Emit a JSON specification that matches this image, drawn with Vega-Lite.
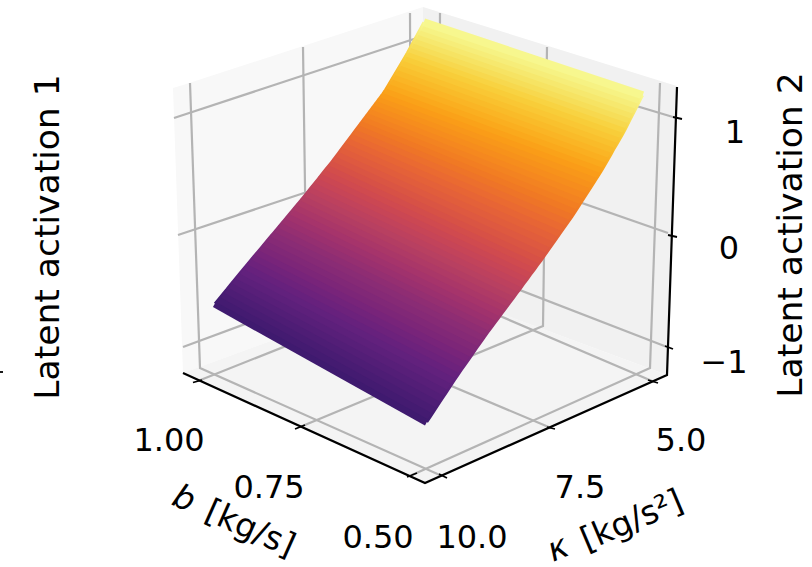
{
"$schema":"https://vega.github.io/schema/vega-lite/v6.json",
"autosize":"none",
"padding":0,
"width":812,
"height":567,
"background":"white",
"config":{"view":{"stroke":null}},
"datasets":{
"panes":[
{"pane":"left","u":173,"v":88,"v2":88},{"pane":"left","u":183,"v":85,"v2":373},{"pane":"left","u":423,"v":7,"v2":285},
{"pane":"right","u":423,"v":7,"v2":285},{"pane":"right","u":667,"v":83,"v2":375},{"pane":"right","u":677,"v":86,"v2":86},
{"pane":"floor","u":183,"v":373,"v2":373},{"pane":"floor","u":424,"v":285,"v2":483},{"pane":"floor","u":667,"v":375,"v2":375}
],
"grid":[
{"g":"z1L","u":174,"v":118},{"g":"z1L","u":423,"v":36},
{"g":"z1R","u":423,"v":42},{"g":"z1R","u":673,"v":117},
{"g":"z0L","u":178,"v":235},{"g":"z0L","u":424,"v":153},
{"g":"z0R","u":424,"v":148},{"g":"z0R","u":668,"v":233},
{"g":"zm1L","u":183,"v":347},{"g":"zm1L","u":424,"v":258},
{"g":"zm1R","u":424,"v":253},{"g":"zm1R","u":667,"v":347},
{"g":"k10","u":442,"v":476},{"g":"k10","u":200,"v":368},{"g":"k10","u":190,"v":83},
{"g":"k75","u":551,"v":428},{"g":"k75","u":307,"v":325},{"g":"k75","u":303,"v":47},
{"g":"k5","u":652,"v":381},{"g":"k5","u":411,"v":278},{"g":"k5","u":410,"v":13},
{"g":"b1","u":198,"v":381},{"g":"b1","u":439,"v":285},{"g":"b1","u":440,"v":13},
{"g":"b75","u":300,"v":427},{"g":"b75","u":543,"v":326},{"g":"b75","u":547,"v":47},
{"g":"b5","u":412,"v":475},{"g":"b5","u":650,"v":368},{"g":"b5","u":660,"v":83}
],
"axes":[
{"g":"frame","u":183,"v":373},{"g":"frame","u":425,"v":483},{"g":"frame","u":667,"v":375},{"g":"frame","u":677,"v":87}
],
"ticks":[
{"g":"b1","u":193,"v":382.5},{"g":"b1","u":202,"v":380},
{"g":"b75","u":295,"v":429},{"g":"b75","u":305,"v":425},
{"g":"b5","u":407,"v":477},{"g":"b5","u":417,"v":473},
{"g":"k10","u":439,"v":474},{"g":"k10","u":447,"v":478},
{"g":"k75","u":547,"v":427},{"g":"k75","u":555,"v":429},
{"g":"k5","u":648,"v":380},{"g":"k5","u":658,"v":383},
{"g":"z1","u":673,"v":117},{"g":"z1","u":682,"v":119},
{"g":"z0","u":668,"v":235},{"g":"z0","u":677,"v":237},
{"g":"zm1","u":665,"v":346},{"g":"zm1","u":673,"v":349},
{"g":"edge","u":0,"v":372},{"g":"edge","u":3,"v":372}
],
"surface":[
{"s":0,"b":1,"z":-0.883,"u":214.9,"v":303.6},{"s":0,"b":0.5,"z":-0.883,"u":426.9,"v":422.1},
{"s":1,"b":1,"z":-0.848,"u":218.8,"v":298.9},{"s":1,"b":0.5,"z":-0.848,"u":430.8,"v":416.2},
{"s":2,"b":1,"z":-0.814,"u":222.7,"v":294.1},{"s":2,"b":0.5,"z":-0.814,"u":434.7,"v":410.3},
{"s":3,"b":1,"z":-0.78,"u":226.6,"v":289.4},{"s":3,"b":0.5,"z":-0.78,"u":438.6,"v":404.4},
{"s":4,"b":1,"z":-0.745,"u":230.4,"v":284.6},{"s":4,"b":0.5,"z":-0.745,"u":442.4,"v":398.6},
{"s":5,"b":1,"z":-0.711,"u":234.3,"v":279.9},{"s":5,"b":0.5,"z":-0.711,"u":446.3,"v":392.7},
{"s":6,"b":1,"z":-0.677,"u":238.2,"v":275.1},{"s":6,"b":0.5,"z":-0.677,"u":450.2,"v":386.8},
{"s":7,"b":1,"z":-0.642,"u":242.1,"v":270.4},{"s":7,"b":0.5,"z":-0.642,"u":454.1,"v":380.9},
{"s":8,"b":1,"z":-0.608,"u":245.9,"v":265.7},{"s":8,"b":0.5,"z":-0.608,"u":457.9,"v":375.3},
{"s":9,"b":1,"z":-0.573,"u":249.8,"v":261.1},{"s":9,"b":0.5,"z":-0.573,"u":461.6,"v":369.9},
{"s":10,"b":1,"z":-0.539,"u":253.7,"v":256.4},{"s":10,"b":0.5,"z":-0.539,"u":465.4,"v":364.6},
{"s":11,"b":1,"z":-0.505,"u":257.6,"v":251.8},{"s":11,"b":0.5,"z":-0.505,"u":469.1,"v":359.2},
{"s":12,"b":1,"z":-0.47,"u":261.4,"v":247.2},{"s":12,"b":0.5,"z":-0.47,"u":472.9,"v":353.8},
{"s":13,"b":1,"z":-0.436,"u":265.3,"v":242.6},{"s":13,"b":0.5,"z":-0.436,"u":476.6,"v":348.4},
{"s":14,"b":1,"z":-0.402,"u":269.2,"v":237.9},{"s":14,"b":0.5,"z":-0.402,"u":480.4,"v":343.1},
{"s":15,"b":1,"z":-0.367,"u":273.1,"v":233.3},{"s":15,"b":0.5,"z":-0.367,"u":484.1,"v":337.7},
{"s":16,"b":1,"z":-0.333,"u":276.9,"v":228.8},{"s":16,"b":0.5,"z":-0.333,"u":487.8,"v":332.6},
{"s":17,"b":1,"z":-0.298,"u":280.6,"v":224.3},{"s":17,"b":0.5,"z":-0.298,"u":491.4,"v":327.7},
{"s":18,"b":1,"z":-0.264,"u":284.4,"v":219.8},{"s":18,"b":0.5,"z":-0.264,"u":495.1,"v":322.8},
{"s":19,"b":1,"z":-0.23,"u":288.1,"v":215.3},{"s":19,"b":0.5,"z":-0.23,"u":498.7,"v":317.9},
{"s":20,"b":1,"z":-0.195,"u":291.9,"v":210.8},{"s":20,"b":0.5,"z":-0.195,"u":502.3,"v":313.1},
{"s":21,"b":1,"z":-0.161,"u":295.6,"v":206.3},{"s":21,"b":0.5,"z":-0.161,"u":505.9,"v":308.2},
{"s":22,"b":1,"z":-0.127,"u":299.4,"v":201.8},{"s":22,"b":0.5,"z":-0.127,"u":509.6,"v":303.3},
{"s":23,"b":1,"z":-0.092,"u":303.1,"v":197.3},{"s":23,"b":0.5,"z":-0.092,"u":513.2,"v":298.4},
{"s":24,"b":1,"z":-0.058,"u":306.8,"v":192.8},{"s":24,"b":0.5,"z":-0.058,"u":516.8,"v":293.6},
{"s":25,"b":1,"z":-0.023,"u":310.3,"v":188.4},{"s":25,"b":0.5,"z":-0.023,"u":520.3,"v":288.9},
{"s":26,"b":1,"z":0.011,"u":313.8,"v":184.1},{"s":26,"b":0.5,"z":0.011,"u":523.8,"v":284.1},
{"s":27,"b":1,"z":0.045,"u":317.3,"v":179.7},{"s":27,"b":0.5,"z":0.045,"u":527.3,"v":279.4},
{"s":28,"b":1,"z":0.08,"u":320.8,"v":175.3},{"s":28,"b":0.5,"z":0.08,"u":530.8,"v":274.6},
{"s":29,"b":1,"z":0.114,"u":324.3,"v":170.9},{"s":29,"b":0.5,"z":0.114,"u":534.3,"v":269.9},
{"s":30,"b":1,"z":0.148,"u":327.8,"v":166.6},{"s":30,"b":0.5,"z":0.148,"u":537.8,"v":265.1},
{"s":31,"b":1,"z":0.183,"u":331.3,"v":162.2},{"s":31,"b":0.5,"z":0.183,"u":541.3,"v":260.4},
{"s":32,"b":1,"z":0.217,"u":334.7,"v":157.8},{"s":32,"b":0.5,"z":0.217,"u":544.9,"v":255.3},
{"s":33,"b":1,"z":0.252,"u":338.1,"v":153.3},{"s":33,"b":0.5,"z":0.252,"u":548.8,"v":249.8},
{"s":34,"b":1,"z":0.286,"u":341.4,"v":148.8},{"s":34,"b":0.5,"z":0.286,"u":552.7,"v":244.3},
{"s":35,"b":1,"z":0.32,"u":344.8,"v":144.3},{"s":35,"b":0.5,"z":0.32,"u":556.6,"v":238.8},
{"s":36,"b":1,"z":0.355,"u":348.2,"v":139.8},{"s":36,"b":0.5,"z":0.355,"u":560.4,"v":233.3},
{"s":37,"b":1,"z":0.389,"u":351.6,"v":135.3},{"s":37,"b":0.5,"z":0.389,"u":564.3,"v":227.8},
{"s":38,"b":1,"z":0.423,"u":354.9,"v":130.8},{"s":38,"b":0.5,"z":0.423,"u":568.2,"v":222.3},
{"s":39,"b":1,"z":0.458,"u":358.3,"v":126.3},{"s":39,"b":0.5,"z":0.458,"u":572.1,"v":216.8},
{"s":40,"b":1,"z":0.492,"u":361.5,"v":122},{"s":40,"b":0.5,"z":0.492,"u":575.7,"v":211.4},
{"s":41,"b":1,"z":0.527,"u":364.5,"v":118},{"s":41,"b":0.5,"z":0.527,"u":579.1,"v":206.1},
{"s":42,"b":1,"z":0.561,"u":367.5,"v":114},{"s":42,"b":0.5,"z":0.561,"u":582.4,"v":200.9},
{"s":43,"b":1,"z":0.595,"u":370.5,"v":110},{"s":43,"b":0.5,"z":0.595,"u":585.8,"v":195.6},
{"s":44,"b":1,"z":0.63,"u":373.5,"v":106},{"s":44,"b":0.5,"z":0.63,"u":589.2,"v":190.4},
{"s":45,"b":1,"z":0.664,"u":376.5,"v":102},{"s":45,"b":0.5,"z":0.664,"u":592.6,"v":185.1},
{"s":46,"b":1,"z":0.698,"u":379.5,"v":98},{"s":46,"b":0.5,"z":0.698,"u":595.9,"v":179.9},
{"s":47,"b":1,"z":0.733,"u":382.5,"v":94},{"s":47,"b":0.5,"z":0.733,"u":599.3,"v":174.6},
{"s":48,"b":1,"z":0.767,"u":385.4,"v":89.7},{"s":48,"b":0.5,"z":0.767,"u":602.4,"v":169.5},
{"s":49,"b":1,"z":0.802,"u":388.1,"v":85.1},{"s":49,"b":0.5,"z":0.802,"u":605.3,"v":164.5},
{"s":50,"b":1,"z":0.836,"u":390.9,"v":80.4},{"s":50,"b":0.5,"z":0.836,"u":608.2,"v":159.5},
{"s":51,"b":1,"z":0.87,"u":393.6,"v":75.8},{"s":51,"b":0.5,"z":0.87,"u":611.1,"v":154.5},
{"s":52,"b":1,"z":0.905,"u":396.4,"v":71.2},{"s":52,"b":0.5,"z":0.905,"u":613.9,"v":149.5},
{"s":53,"b":1,"z":0.939,"u":399.1,"v":66.6},{"s":53,"b":0.5,"z":0.939,"u":616.8,"v":144.5},
{"s":54,"b":1,"z":0.973,"u":401.9,"v":61.9},{"s":54,"b":0.5,"z":0.973,"u":619.7,"v":139.5},
{"s":55,"b":1,"z":1.008,"u":404.6,"v":57.3},{"s":55,"b":0.5,"z":1.008,"u":622.6,"v":134.5},
{"s":56,"b":1,"z":1.042,"u":407.2,"v":52.8},{"s":56,"b":0.5,"z":1.042,"u":625.3,"v":129.6},
{"s":57,"b":1,"z":1.077,"u":409.6,"v":48.4},{"s":57,"b":0.5,"z":1.077,"u":627.8,"v":124.7},
{"s":58,"b":1,"z":1.111,"u":411.9,"v":44.1},{"s":58,"b":0.5,"z":1.111,"u":630.3,"v":119.8},
{"s":59,"b":1,"z":1.145,"u":414.3,"v":39.7},{"s":59,"b":0.5,"z":1.145,"u":632.8,"v":114.9},
{"s":60,"b":1,"z":1.18,"u":416.7,"v":35.3},{"s":60,"b":0.5,"z":1.18,"u":635.3,"v":110.1},
{"s":61,"b":1,"z":1.214,"u":419.1,"v":30.9},{"s":61,"b":0.5,"z":1.214,"u":637.8,"v":105.2},
{"s":62,"b":1,"z":1.248,"u":421.4,"v":26.6},{"s":62,"b":0.5,"z":1.248,"u":640.3,"v":100.3},
{"s":63,"b":1,"z":1.283,"u":423.8,"v":22.2},{"s":63,"b":0.5,"z":1.283,"u":642.8,"v":95.4}
]
},
"layer":[
{"data":{"name":"panes"},"transform":[{"filter":"datum.pane==='left'"}],"mark":{"type":"area","color":"#f8f8f8"},
 "encoding":{"x":{"field":"u","type":"quantitative","scale":{"domain":[0,812],"nice":false,"zero":false},"axis":null},"y":{"field":"v","type":"quantitative","scale":{"domain":[0,567],"reverse":true,"nice":false,"zero":false},"axis":null},"y2":{"field":"v2"}}},
{"data":{"name":"panes"},"transform":[{"filter":"datum.pane==='right'"}],"mark":{"type":"area","color":"#f1f1f1"},
 "encoding":{"x":{"field":"u","type":"quantitative","axis":null},"y":{"field":"v","type":"quantitative","axis":null},"y2":{"field":"v2"}}},
{"data":{"name":"panes"},"transform":[{"filter":"datum.pane==='floor'"}],"mark":{"type":"area","color":"#f4f4f4"},
 "encoding":{"x":{"field":"u","type":"quantitative","axis":null},"y":{"field":"v","type":"quantitative","axis":null},"y2":{"field":"v2"}}},
{"data":{"name":"grid"},"mark":{"type":"line","color":"#b4b4b4","strokeWidth":2.2,"strokeJoin":"miter"},
 "encoding":{"x":{"field":"u","type":"quantitative","axis":null},"y":{"field":"v","type":"quantitative","axis":null},"detail":{"field":"g"},"order":{"value":0}}},
{"data":{"name":"surface"},"mark":{"type":"line","strokeWidth":8,"strokeCap":"butt"},
 "encoding":{"x":{"field":"u","type":"quantitative","axis":null},"y":{"field":"v","type":"quantitative","axis":null},"detail":{"field":"s"},"color":{"field":"z","type":"quantitative","scale":{"domain":[-0.9,-0.625,-0.35,-0.075,0.2,0.475,0.75,1.025,1.3],"range":["#3d1a6e","#64217e","#8c2d74","#b53f62","#d85344","#ef7625","#fa9f17","#f8d03c","#f7f993"]},"legend":null}}},
{"data":{"name":"surface"},"transform":[{"filter":"datum.b===1"}],
 "mark":{"type":"line","strokeWidth":2.5,"stroke":{"gradient":"linear","x1":0,"y1":0,"x2":1,"y2":0,"stops":[{"offset":0,"color":"#3d1a6e"},{"offset":0.146,"color":"#64217e"},{"offset":0.292,"color":"#8c2d74"},{"offset":0.434,"color":"#b53f62"},{"offset":0.566,"color":"#d85344"},{"offset":0.693,"color":"#ef7625"},{"offset":0.807,"color":"#fa9f17"},{"offset":0.91,"color":"#f8d03c"},{"offset":1,"color":"#f7f993"}]}},
 "encoding":{"x":{"field":"u","type":"quantitative","axis":null},"y":{"field":"v","type":"quantitative","axis":null}}},
{"data":{"name":"surface"},"transform":[{"filter":"datum.b===0.5"}],
 "mark":{"type":"line","strokeWidth":2.5,"stroke":{"gradient":"linear","x1":0,"y1":0,"x2":1,"y2":0,"stops":[{"offset":0,"color":"#3d1a6e"},{"offset":0.142,"color":"#64217e"},{"offset":0.279,"color":"#8c2d74"},{"offset":0.411,"color":"#b53f62"},{"offset":0.539,"color":"#d85344"},{"offset":0.68,"color":"#ef7625"},{"offset":0.804,"color":"#fa9f17"},{"offset":0.909,"color":"#f8d03c"},{"offset":1,"color":"#f7f993"}]}},
 "encoding":{"x":{"field":"u","type":"quantitative","axis":null},"y":{"field":"v","type":"quantitative","axis":null}}},
{"data":{"name":"axes"},"mark":{"type":"line","color":"#000000","strokeWidth":2.2,"strokeJoin":"miter"},
 "encoding":{"x":{"field":"u","type":"quantitative","axis":null},"y":{"field":"v","type":"quantitative","axis":null},"detail":{"field":"g"}}},
{"data":{"name":"ticks"},"mark":{"type":"line","color":"#000000","strokeWidth":1.8},
 "encoding":{"x":{"field":"u","type":"quantitative","axis":null},"y":{"field":"v","type":"quantitative","axis":null},"detail":{"field":"g"}}},
{"data":{"values":[
 {"t":"1.00","u":169,"v":441},{"t":"0.75","u":269,"v":488},{"t":"0.50","u":378,"v":538},
 {"t":"5.0","u":681,"v":441},{"t":"7.5","u":580,"v":488},{"t":"10.0","u":472,"v":538},
 {"t":"1","u":735,"v":133},{"t":"0","u":729,"v":249},{"t":"−1","u":724,"v":363}]},
 "mark":{"type":"text","font":"DejaVu Sans","fontSize":32,"color":"#000000","align":"center","baseline":"middle"},
 "encoding":{"x":{"field":"u","type":"quantitative","axis":null},"y":{"field":"v","type":"quantitative","axis":null},"text":{"field":"t"}}},
{"data":{"values":[{"t":"Latent activation 1","u":59,"v":237},{"t":"Latent activation 2","u":802,"v":235}]},
 "mark":{"type":"text","font":"DejaVu Sans","fontSize":34.5,"color":"#000000","align":"center","baseline":"alphabetic","angle":270},
 "encoding":{"x":{"field":"u","type":"quantitative","axis":null},"y":{"field":"v","type":"quantitative","axis":null},"text":{"field":"t"}}},
{"data":{"values":[{"t":"[kg/s]","u":250,"v":529}]},
 "mark":{"type":"text","font":"DejaVu Sans","fontSize":33,"color":"#000000","align":"center","baseline":"middle","angle":24},
 "encoding":{"x":{"field":"u","type":"quantitative","axis":null},"y":{"field":"v","type":"quantitative","axis":null},"text":{"field":"t"}}},
{"data":{"values":[{"t":"b","u":184,"v":499}]},
 "mark":{"type":"text","font":"DejaVu Sans","fontStyle":"italic","fontSize":33,"color":"#000000","align":"center","baseline":"middle","angle":24},
 "encoding":{"x":{"field":"u","type":"quantitative","axis":null},"y":{"field":"v","type":"quantitative","axis":null},"text":{"field":"t"}}},
{"data":{"values":[{"t":"[kg/s²]","u":632,"v":521}]},
 "mark":{"type":"text","font":"DejaVu Sans","fontSize":33,"color":"#000000","align":"center","baseline":"middle","angle":337},
 "encoding":{"x":{"field":"u","type":"quantitative","axis":null},"y":{"field":"v","type":"quantitative","axis":null},"text":{"field":"t"}}},
{"data":{"values":[{"t":"κ","u":558,"v":549}]},
 "mark":{"type":"text","font":"DejaVu Sans","fontStyle":"italic","fontSize":33,"color":"#000000","align":"center","baseline":"middle","angle":337},
 "encoding":{"x":{"field":"u","type":"quantitative","axis":null},"y":{"field":"v","type":"quantitative","axis":null},"text":{"field":"t"}}}
]
}
